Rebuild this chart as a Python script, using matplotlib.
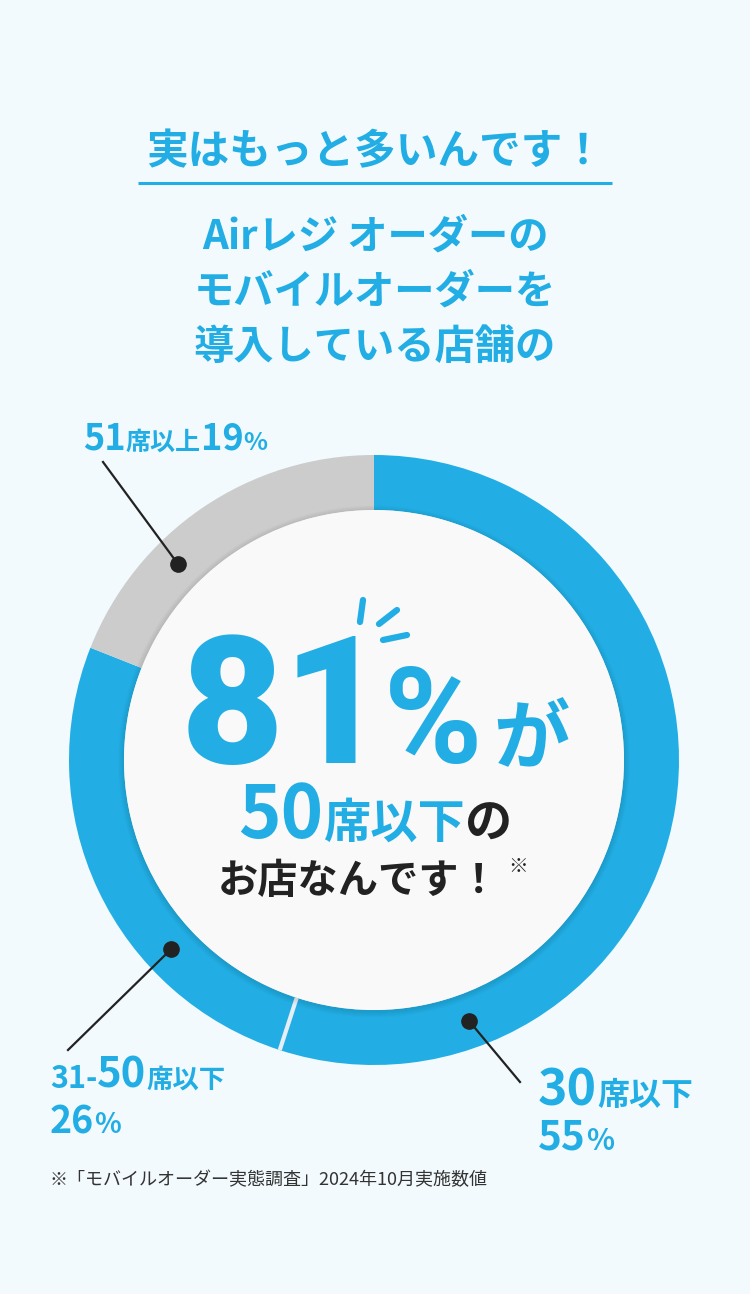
import matplotlib
matplotlib.use("Agg")
import matplotlib.pyplot as plt
import numpy as np
from matplotlib.patches import Circle

plt.rcParams['font.family'] = ['Noto Sans CJK JP', 'DejaVu Sans']

# data
seg_labels = ['30席以下', '31-50席以下', '51席以上']
seg_values = [55, 26, 19]
highlight = 81          # 50席以下 = 55 + 26
title = '実はもっと多いんです！'
heading = ['Airレジ オーダーの', 'モバイルオーダーを', '導入している店舗の']
note = '※「モバイルオーダー実態調査」2024年10月実施数値'

BLUE = '#22aee4'
GRAY = '#cccccc'
BG = '#f2fafd'
DARK = '#222222'
W, H = 750, 1294
BIG = ['Roboto', 'Noto Sans CJK JP']

fig = plt.figure(figsize=(7.5, 12.94), dpi=100, facecolor=BG)
ax = fig.add_axes([0, 0, 1, 1])
ax.set_facecolor(BG)


def Y(y):
    return H - y


renderer = fig.canvas.get_renderer()


def pieces(x, y, parts, weight='bold'):
    # draw text pieces one after another along one baseline
    for s, size, color in parts:
        t = ax.text(x, Y(y), s, fontsize=size, color=color, fontweight=weight,
                    ha='left', va='baseline', zorder=10)
        x += t.get_window_extent(renderer).width
    return x


# title + underline
ax.text(375, Y(152), title, fontsize=30, color=BLUE, fontweight='bold',
        ha='center', va='center')
ax.plot([138, 612], [Y(183), Y(183)], color=BLUE, lw=2.2, solid_capstyle='butt')

for i, line in enumerate(heading):
    ax.text(375, Y(237 + 55 * i), line, fontsize=29, color=BLUE,
            fontweight='bold', ha='center', va='center')

# donut
cx, cy = 374, Y(760)
R, ring = 305, 55
ax.pie(seg_values, colors=[BLUE, BLUE, GRAY], startangle=90, counterclock=False,
       radius=R, center=(cx, cy), wedgeprops=dict(width=ring, linewidth=0),
       frame=True)
ax.set_xlim(0, W)
ax.set_ylim(0, H)
ax.set_aspect('equal')
ax.axis('off')

# thin separator between the two blue segments
th = np.deg2rad(90 - 360 * seg_values[0] / sum(seg_values))
ax.plot([cx + (R - ring) * np.cos(th), cx + R * np.cos(th)],
        [cy + (R - ring) * np.sin(th), cy + R * np.sin(th)],
        color='#e4eef4', lw=3, solid_capstyle='butt', zorder=3)

# inner circle with soft shadow
for k in range(1, 7):
    ax.add_patch(Circle((cx, cy - 1.5), R - ring + k, color='black',
                        alpha=0.016, lw=0, zorder=4))
ax.add_patch(Circle((cx, cy), R - ring, color='#f9f9f9', lw=0, zorder=5))

# leader dots and lines
mid = R - ring / 2
dots = [(-70, (520, 1082)), (-137, (68, 1050)), (135, (103, 462))]
for ang, (ex, ey) in dots:
    a = np.deg2rad(ang)
    px, py = cx + mid * np.cos(a), cy + mid * np.sin(a)
    ax.plot([px, ex], [py, Y(ey)], color=DARK, lw=1.6, zorder=6)
    ax.plot(px, py, 'o', color=DARK, ms=11, zorder=7)

# labels
pieces(83, 450, [('51', 26, BLUE), ('席以上', 18, BLUE),
                 ('19', 26, BLUE), ('%', 18, BLUE)])
pieces(50, 1088, [('31-', 22, BLUE), ('50', 30, BLUE), ('席以下', 19, BLUE)])
pieces(50, 1133, [('26', 27, BLUE), ('%', 20, BLUE)])
pieces(538, 1105, [('30', 36, BLUE), ('席以下', 23, BLUE)])
pieces(538, 1150, [('55', 29, BLUE), ('%', 21, BLUE)])

# center message
ax.text(181, Y(763), str(highlight), fontsize=128, color=BLUE, fontweight=900,
        family=BIG, ha='left', va='baseline', zorder=10)
ax.text(384, Y(763), '%', fontsize=96, color=BLUE, fontweight='bold',
        family=BIG, ha='left', va='baseline', zorder=10)
ax.text(493, Y(763), 'が', fontsize=55, color=BLUE, fontweight='bold',
        ha='left', va='baseline', zorder=10)
for (x0, y0), (x1, y1) in [((363, 600), (360, 622)), ((397, 610), (379, 624)),
                           ((383, 640), (407, 635))]:
    ax.plot([x0, x1], [Y(y0), Y(y1)], color=BLUE, lw=4.5,
            solid_capstyle='round', zorder=8)
pieces(238, 838, [('50', 52, BLUE), ('席以下', 34, BLUE), ('の', 34, DARK)])
pieces(218, 893, [('お店なんです！', 29, DARK)])
ax.text(508, Y(872), '※', fontsize=14, color=DARK, ha='left', va='baseline',
        zorder=10)

# footnote
ax.text(50, Y(1180), note, fontsize=13, color='#333333', ha='left', va='center')

fig.savefig('out.png', dpi=100, facecolor=BG)
